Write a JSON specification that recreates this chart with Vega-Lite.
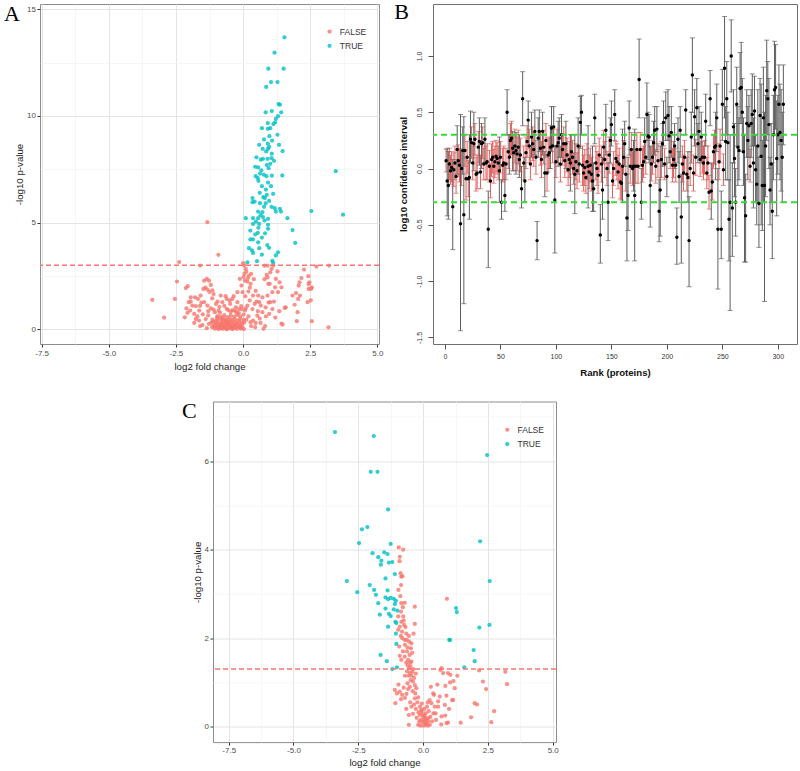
{
"$schema": "https://vega.github.io/schema/vega-lite/v6.json",
"autosize": {"type": "pad"},
"padding": {"left": 3, "top": 0, "right": 0, "bottom": 0},
"background": "white",
"config": {
  "view": {"stroke": null},
  "font": "Liberation Sans",
  "axis": {"labelFont": "Liberation Sans", "titleFont": "Liberation Sans"},
  "legend": {"labelFont": "Liberation Sans"}
},
"datasets": {
"a": [
{"x":1.54,"y":13.69,"s":"TRUE"},{"x":1.17,"y":12.97,"s":"TRUE"},{"x":0.94,"y":12.22,"s":"TRUE"},{"x":1.51,"y":12.22,"s":"TRUE"},{"x":1.04,"y":11.59,"s":"TRUE"},{"x":1.28,"y":11.59,"s":"TRUE"},{"x":0.86,"y":11.36,"s":"TRUE"},{"x":1.32,"y":10.56,"s":"TRUE"},{"x":1.37,"y":10.53,"s":"TRUE"},{"x":0.84,"y":10.17,"s":"TRUE"},{"x":1.07,"y":10.23,"s":"TRUE"},{"x":1.42,"y":10.17,"s":"TRUE"},{"x":1.30,"y":9.99,"s":"TRUE"},{"x":1.22,"y":9.87,"s":"TRUE"},{"x":0.92,"y":9.67,"s":"TRUE"},{"x":1.13,"y":9.62,"s":"TRUE"},{"x":0.70,"y":9.43,"s":"TRUE"},{"x":0.92,"y":9.40,"s":"TRUE"},{"x":1.01,"y":9.43,"s":"TRUE"},{"x":1.19,"y":9.70,"s":"TRUE"},{"x":1.28,"y":9.12,"s":"TRUE"},{"x":0.60,"y":8.65,"s":"TRUE"},{"x":0.92,"y":8.70,"s":"TRUE"},{"x":1.34,"y":8.65,"s":"TRUE"},{"x":0.73,"y":8.46,"s":"TRUE"},{"x":0.93,"y":8.46,"s":"TRUE"},{"x":0.97,"y":8.55,"s":"TRUE"},{"x":0.50,"y":8.06,"s":"TRUE"},{"x":0.86,"y":8.34,"s":"TRUE"},{"x":1.07,"y":8.23,"s":"TRUE"},{"x":1.47,"y":8.35,"s":"TRUE"},{"x":0.74,"y":7.99,"s":"TRUE"},{"x":0.91,"y":7.99,"s":"TRUE"},{"x":1.06,"y":8.02,"s":"TRUE"},{"x":0.66,"y":7.95,"s":"TRUE"},{"x":0.45,"y":7.62,"s":"TRUE"},{"x":0.56,"y":7.59,"s":"TRUE"},{"x":1.01,"y":7.76,"s":"TRUE"},{"x":0.95,"y":7.55,"s":"TRUE"},{"x":0.88,"y":7.70,"s":"TRUE"},{"x":0.68,"y":7.45,"s":"TRUE"},{"x":0.47,"y":7.18,"s":"TRUE"},{"x":0.87,"y":7.18,"s":"TRUE"},{"x":1.07,"y":7.20,"s":"TRUE"},{"x":1.46,"y":7.21,"s":"TRUE"},{"x":0.55,"y":7.09,"s":"TRUE"},{"x":0.57,"y":6.96,"s":"TRUE"},{"x":0.63,"y":7.30,"s":"TRUE"},{"x":0.70,"y":6.71,"s":"TRUE"},{"x":1.04,"y":6.71,"s":"TRUE"},{"x":0.93,"y":6.88,"s":"TRUE"},{"x":0.35,"y":6.15,"s":"TRUE"},{"x":0.81,"y":6.15,"s":"TRUE"},{"x":0.35,"y":5.96,"s":"TRUE"},{"x":0.43,"y":5.99,"s":"TRUE"},{"x":0.63,"y":5.91,"s":"TRUE"},{"x":0.84,"y":5.90,"s":"TRUE"},{"x":0.97,"y":6.02,"s":"TRUE"},{"x":0.88,"y":6.30,"s":"TRUE"},{"x":0.75,"y":6.20,"s":"TRUE"},{"x":0.78,"y":5.74,"s":"TRUE"},{"x":1.06,"y":5.74,"s":"TRUE"},{"x":1.18,"y":5.68,"s":"TRUE"},{"x":1.37,"y":5.65,"s":"TRUE"},{"x":1.22,"y":5.52,"s":"TRUE"},{"x":1.41,"y":5.52,"s":"TRUE"},{"x":0.56,"y":5.52,"s":"TRUE"},{"x":0.72,"y":5.49,"s":"TRUE"},{"x":0.10,"y":5.21,"s":"TRUE"},{"x":0.37,"y":5.21,"s":"TRUE"},{"x":0.56,"y":5.21,"s":"TRUE"},{"x":0.74,"y":5.26,"s":"TRUE"},{"x":0.93,"y":5.18,"s":"TRUE"},{"x":1.65,"y":5.21,"s":"TRUE"},{"x":2.54,"y":5.54,"s":"TRUE"},{"x":3.72,"y":5.37,"s":"TRUE"},{"x":3.45,"y":7.41,"s":"TRUE"},{"x":0.37,"y":4.94,"s":"TRUE"},{"x":0.60,"y":4.94,"s":"TRUE"},{"x":0.93,"y":4.90,"s":"TRUE"},{"x":0.57,"y":4.76,"s":"TRUE"},{"x":0.93,"y":4.71,"s":"TRUE"},{"x":1.84,"y":4.65,"s":"TRUE"},{"x":0.27,"y":4.63,"s":"TRUE"},{"x":0.55,"y":4.52,"s":"TRUE"},{"x":0.27,"y":4.21,"s":"TRUE"},{"x":0.37,"y":4.21,"s":"TRUE"},{"x":0.56,"y":4.08,"s":"TRUE"},{"x":0.22,"y":3.80,"s":"TRUE"},{"x":0.97,"y":3.82,"s":"TRUE"},{"x":1.94,"y":4.05,"s":"TRUE"},{"x":0.60,"y":3.80,"s":"TRUE"},{"x":0.37,"y":3.58,"s":"TRUE"},{"x":1.30,"y":3.61,"s":"TRUE"},{"x":1.22,"y":3.46,"s":"TRUE"},{"x":0.16,"y":3.14,"s":"TRUE"},{"x":0.52,"y":3.19,"s":"TRUE"},{"x":1.09,"y":3.21,"s":"TRUE"},{"x":1.12,"y":3.11,"s":"TRUE"},{"x":0.80,"y":5.10,"s":"TRUE"},{"x":0.65,"y":5.35,"s":"TRUE"},{"x":0.48,"y":5.05,"s":"TRUE"},{"x":0.82,"y":4.50,"s":"TRUE"},{"x":0.70,"y":4.30,"s":"TRUE"},{"x":0.45,"y":4.45,"s":"TRUE"},{"x":0.85,"y":6.55,"s":"TRUE"},{"x":0.62,"y":6.40,"s":"TRUE"},{"x":1.12,"y":6.35,"s":"TRUE"},{"x":0.77,"y":7.25,"s":"TRUE"},{"x":1.15,"y":7.90,"s":"TRUE"},{"x":0.78,"y":8.90,"s":"TRUE"},{"x":0.98,"y":9.05,"s":"TRUE"},{"x":1.08,"y":8.85,"s":"TRUE"},{"x":0.90,"y":3.95,"s":"TRUE"},{"x":0.70,"y":3.50,"s":"TRUE"},{"x":0.33,"y":3.70,"s":"TRUE"},
{"x":-1.33,"y":5.02,"s":"FALSE"},{"x":-0.92,"y":3.49,"s":"FALSE"},{"x":-2.38,"y":3.15,"s":"FALSE"},{"x":-1.60,"y":2.99,"s":"FALSE"},{"x":0.00,"y":3.10,"s":"FALSE"},{"x":0.04,"y":2.99,"s":"FALSE"},{"x":0.80,"y":2.98,"s":"FALSE"},{"x":2.73,"y":2.94,"s":"FALSE"},{"x":3.20,"y":2.99,"s":"FALSE"},{"x":2.27,"y":2.80,"s":"FALSE"},{"x":-2.46,"y":2.24,"s":"FALSE"},{"x":-2.13,"y":1.93,"s":"FALSE"},{"x":-2.06,"y":2.02,"s":"FALSE"},{"x":-3.38,"y":1.38,"s":"FALSE"},{"x":-2.54,"y":1.42,"s":"FALSE"},{"x":-2.94,"y":0.55,"s":"FALSE"},{"x":0.76,"y":0.02,"s":"FALSE"},{"x":3.18,"y":0.09,"s":"FALSE"},{"x":2.56,"y":0.38,"s":"FALSE"},{"x":2.00,"y":0.38,"s":"FALSE"},{"x":1.47,"y":0.22,"s":"FALSE"},{"x":2.03,"y":0.80,"s":"FALSE"},{"x":1.55,"y":1.00,"s":"FALSE"},{"x":1.92,"y":1.15,"s":"FALSE"},{"x":2.05,"y":1.42,"s":"FALSE"},{"x":1.84,"y":1.58,"s":"FALSE"},{"x":2.10,"y":2.20,"s":"FALSE"},{"x":2.07,"y":2.05,"s":"FALSE"},{"x":2.44,"y":2.12,"s":"FALSE"},{"x":2.44,"y":1.89,"s":"FALSE"},{"x":2.53,"y":1.89,"s":"FALSE"},{"x":1.36,"y":2.20,"s":"FALSE"},{"x":1.43,"y":1.97,"s":"FALSE"},{"x":1.30,"y":1.74,"s":"FALSE"},{"x":2.52,"y":1.35,"s":"FALSE"},{"x":2.17,"y":2.40,"s":"FALSE"},{"x":1.97,"y":1.70,"s":"FALSE"},{"x":2.12,"y":1.58,"s":"FALSE"},{"x":2.40,"y":1.27,"s":"FALSE"},{"x":2.56,"y":1.97,"s":"FALSE"},{"x":2.47,"y":2.20,"s":"FALSE"},{"x":2.43,"y":2.49,"s":"FALSE"},{"x":1.59,"y":1.03,"s":"FALSE"},{"x":1.43,"y":0.27,"s":"FALSE"},
{"x":0.10,"y":2.83,"s":"FALSE"},{"x":0.05,"y":2.60,"s":"FALSE"},{"x":0.22,"y":2.52,"s":"FALSE"},{"x":0.07,"y":2.28,"s":"FALSE"},{"x":-0.12,"y":2.36,"s":"FALSE"},{"x":-0.06,"y":2.05,"s":"FALSE"},{"x":0.16,"y":2.24,"s":"FALSE"},{"x":0.28,"y":2.13,"s":"FALSE"},{"x":-0.21,"y":1.74,"s":"FALSE"},{"x":-0.02,"y":1.74,"s":"FALSE"},{"x":0.20,"y":1.77,"s":"FALSE"},{"x":0.47,"y":1.80,"s":"FALSE"},{"x":0.37,"y":1.58,"s":"FALSE"},{"x":0.56,"y":1.58,"s":"FALSE"},{"x":0.72,"y":1.50,"s":"FALSE"},{"x":0.91,"y":1.58,"s":"FALSE"},{"x":0.94,"y":2.13,"s":"FALSE"},{"x":0.99,"y":2.13,"s":"FALSE"},{"x":0.91,"y":2.43,"s":"FALSE"},{"x":1.01,"y":2.67,"s":"FALSE"},{"x":0.91,"y":2.99,"s":"FALSE"},{"x":1.06,"y":2.83,"s":"FALSE"},{"x":1.12,"y":2.99,"s":"FALSE"},{"x":1.22,"y":2.36,"s":"FALSE"},{"x":1.28,"y":2.71,"s":"FALSE"},{"x":1.19,"y":1.97,"s":"FALSE"},{"x":1.09,"y":1.74,"s":"FALSE"},{"x":1.01,"y":1.27,"s":"FALSE"},{"x":0.84,"y":1.03,"s":"FALSE"},{"x":0.97,"y":0.72,"s":"FALSE"},{"x":1.09,"y":0.95,"s":"FALSE"},{"x":0.72,"y":0.80,"s":"FALSE"},{"x":0.53,"y":0.64,"s":"FALSE"},{"x":0.37,"y":0.41,"s":"FALSE"},{"x":0.28,"y":0.33,"s":"FALSE"},{"x":0.47,"y":0.30,"s":"FALSE"},{"x":0.60,"y":1.27,"s":"FALSE"},{"x":0.66,"y":1.11,"s":"FALSE"},{"x":0.43,"y":1.19,"s":"FALSE"},{"x":0.25,"y":1.35,"s":"FALSE"},{"x":0.16,"y":1.11,"s":"FALSE"},{"x":0.07,"y":0.88,"s":"FALSE"},{"x":-0.07,"y":1.08,"s":"FALSE"},{"x":-0.21,"y":1.27,"s":"FALSE"},{"x":-0.27,"y":1.03,"s":"FALSE"},{"x":-0.40,"y":1.42,"s":"FALSE"},{"x":-0.48,"y":1.19,"s":"FALSE"},{"x":-0.61,"y":1.42,"s":"FALSE"},{"x":-0.77,"y":1.27,"s":"FALSE"},{"x":-0.83,"y":1.58,"s":"FALSE"},{"x":0.12,"y":2.70,"s":"FALSE"},{"x":0.18,"y":2.40,"s":"FALSE"},{"x":0.02,"y":2.45,"s":"FALSE"},{"x":0.30,"y":2.60,"s":"FALSE"},{"x":0.25,"y":1.95,"s":"FALSE"},{"x":0.08,"y":1.55,"s":"FALSE"},{"x":0.35,"y":0.95,"s":"FALSE"},{"x":0.55,"y":0.85,"s":"FALSE"},{"x":0.20,"y":0.60,"s":"FALSE"},{"x":0.12,"y":0.45,"s":"FALSE"},{"x":0.62,"y":0.50,"s":"FALSE"},{"x":0.85,"y":0.60,"s":"FALSE"},{"x":0.95,"y":1.25,"s":"FALSE"},{"x":1.15,"y":1.30,"s":"FALSE"},{"x":0.80,"y":2.35,"s":"FALSE"},{"x":0.88,"y":2.55,"s":"FALSE"},{"x":0.40,"y":2.35,"s":"FALSE"},{"x":0.50,"y":1.30,"s":"FALSE"},{"x":0.65,"y":0.30,"s":"FALSE"},{"x":0.82,"y":0.15,"s":"FALSE"},{"x":1.20,"y":0.55,"s":"FALSE"},{"x":1.35,"y":0.85,"s":"FALSE"},{"x":0.45,"y":0.10,"s":"FALSE"},{"x":0.30,"y":0.15,"s":"FALSE"},
{"x":-1.45,"y":2.28,"s":"FALSE"},{"x":-1.35,"y":2.36,"s":"FALSE"},{"x":-1.27,"y":2.28,"s":"FALSE"},{"x":-1.20,"y":2.08,"s":"FALSE"},{"x":-1.48,"y":1.89,"s":"FALSE"},{"x":-1.33,"y":1.86,"s":"FALSE"},{"x":-1.14,"y":1.82,"s":"FALSE"},{"x":-1.79,"y":1.50,"s":"FALSE"},{"x":-1.68,"y":1.42,"s":"FALSE"},{"x":-1.58,"y":1.58,"s":"FALSE"},{"x":-1.95,"y":1.50,"s":"FALSE"},{"x":-2.02,"y":1.27,"s":"FALSE"},{"x":-1.89,"y":1.11,"s":"FALSE"},{"x":-1.76,"y":1.08,"s":"FALSE"},{"x":-2.11,"y":0.98,"s":"FALSE"},{"x":-1.97,"y":0.88,"s":"FALSE"},{"x":-1.82,"y":0.72,"s":"FALSE"},{"x":-1.63,"y":0.88,"s":"FALSE"},{"x":-1.45,"y":1.27,"s":"FALSE"},{"x":-1.33,"y":1.11,"s":"FALSE"},{"x":-1.20,"y":0.98,"s":"FALSE"},{"x":-1.01,"y":1.19,"s":"FALSE"},{"x":-0.91,"y":0.88,"s":"FALSE"},{"x":-0.97,"y":0.56,"s":"FALSE"},{"x":-1.39,"y":0.48,"s":"FALSE"},{"x":-1.64,"y":0.41,"s":"FALSE"},{"x":-1.82,"y":0.30,"s":"FALSE"},{"x":-1.51,"y":0.20,"s":"FALSE"},{"x":-1.27,"y":0.25,"s":"FALSE"},{"x":-1.12,"y":0.36,"s":"FALSE"},{"x":-1.76,"y":0.48,"s":"FALSE"},{"x":-2.07,"y":0.77,"s":"FALSE"},{"x":-2.17,"y":0.56,"s":"FALSE"},{"x":-1.40,"y":1.95,"s":"FALSE"},{"x":-1.25,"y":1.75,"s":"FALSE"},{"x":-1.55,"y":1.25,"s":"FALSE"},{"x":-1.15,"y":1.45,"s":"FALSE"},{"x":-0.95,"y":1.30,"s":"FALSE"},{"x":-0.70,"y":1.10,"s":"FALSE"},{"x":-0.55,"y":0.90,"s":"FALSE"},{"x":-1.05,"y":0.80,"s":"FALSE"},{"x":-1.30,"y":0.65,"s":"FALSE"},{"x":-1.50,"y":0.70,"s":"FALSE"},{"x":-1.60,"y":1.10,"s":"FALSE"},{"x":-0.65,"y":1.55,"s":"FALSE"},{"x":-0.50,"y":1.35,"s":"FALSE"},{"x":-0.35,"y":1.55,"s":"FALSE"},{"x":-0.88,"y":1.05,"s":"FALSE"},{"x":-1.70,"y":0.60,"s":"FALSE"},{"x":-1.95,"y":1.30,"s":"FALSE"},{"x":-1.10,"y":1.65,"s":"FALSE"},{"x":-0.40,"y":0.90,"s":"FALSE"},{"x":-0.25,"y":0.80,"s":"FALSE"},{"x":-0.15,"y":0.95,"s":"FALSE"},{"x":-1.15,"y":0.10,"s":"FALSE"},{"x":-1.35,"y":0.05,"s":"FALSE"},{"x":-1.60,"y":0.15,"s":"FALSE"},
{"x":-1.05,"y":0.03,"s":"FALSE"},{"x":-0.98,"y":0.07,"s":"FALSE"},{"x":-0.91,"y":0.01,"s":"FALSE"},{"x":-0.83,"y":0.05,"s":"FALSE"},{"x":-0.76,"y":0.02,"s":"FALSE"},{"x":-0.69,"y":0.08,"s":"FALSE"},{"x":-0.61,"y":0.00,"s":"FALSE"},{"x":-0.53,"y":0.04,"s":"FALSE"},{"x":-0.46,"y":0.09,"s":"FALSE"},{"x":-0.39,"y":0.01,"s":"FALSE"},{"x":-0.31,"y":0.06,"s":"FALSE"},{"x":-0.23,"y":0.02,"s":"FALSE"},{"x":-0.16,"y":0.08,"s":"FALSE"},{"x":-0.09,"y":0.03,"s":"FALSE"},{"x":-0.02,"y":0.06,"s":"FALSE"},{"x":0.03,"y":0.01,"s":"FALSE"},{"x":-0.65,"y":0.05,"s":"FALSE"},{"x":-0.57,"y":0.10,"s":"FALSE"},{"x":-0.42,"y":0.04,"s":"FALSE"},{"x":-0.87,"y":0.09,"s":"FALSE"},{"x":-0.72,"y":0.11,"s":"FALSE"},{"x":-0.35,"y":0.10,"s":"FALSE"},
{"x":-1.10,"y":0.15,"s":"FALSE"},{"x":-1.01,"y":0.19,"s":"FALSE"},{"x":-0.94,"y":0.13,"s":"FALSE"},{"x":-0.86,"y":0.21,"s":"FALSE"},{"x":-0.78,"y":0.16,"s":"FALSE"},{"x":-0.71,"y":0.20,"s":"FALSE"},{"x":-0.63,"y":0.14,"s":"FALSE"},{"x":-0.55,"y":0.22,"s":"FALSE"},{"x":-0.48,"y":0.17,"s":"FALSE"},{"x":-0.41,"y":0.13,"s":"FALSE"},{"x":-0.33,"y":0.19,"s":"FALSE"},{"x":-0.26,"y":0.15,"s":"FALSE"},{"x":-0.18,"y":0.21,"s":"FALSE"},{"x":-0.11,"y":0.14,"s":"FALSE"},{"x":-0.05,"y":0.18,"s":"FALSE"},{"x":-0.60,"y":0.17,"s":"FALSE"},{"x":-0.45,"y":0.12,"s":"FALSE"},{"x":-0.81,"y":0.12,"s":"FALSE"},
{"x":-1.18,"y":0.30,"s":"FALSE"},{"x":-1.04,"y":0.27,"s":"FALSE"},{"x":-0.96,"y":0.33,"s":"FALSE"},{"x":-0.88,"y":0.26,"s":"FALSE"},{"x":-0.80,"y":0.31,"s":"FALSE"},{"x":-0.73,"y":0.35,"s":"FALSE"},{"x":-0.66,"y":0.27,"s":"FALSE"},{"x":-0.58,"y":0.32,"s":"FALSE"},{"x":-0.50,"y":0.26,"s":"FALSE"},{"x":-0.43,"y":0.34,"s":"FALSE"},{"x":-0.36,"y":0.28,"s":"FALSE"},{"x":-0.28,"y":0.32,"s":"FALSE"},{"x":-0.21,"y":0.26,"s":"FALSE"},{"x":-0.13,"y":0.34,"s":"FALSE"},{"x":-0.05,"y":0.29,"s":"FALSE"},{"x":0.04,"y":0.31,"s":"FALSE"},{"x":-0.62,"y":0.38,"s":"FALSE"},{"x":-0.52,"y":0.36,"s":"FALSE"},
{"x":-1.14,"y":0.45,"s":"FALSE"},{"x":-1.01,"y":0.41,"s":"FALSE"},{"x":-0.91,"y":0.48,"s":"FALSE"},{"x":-0.81,"y":0.43,"s":"FALSE"},{"x":-0.70,"y":0.46,"s":"FALSE"},{"x":-0.61,"y":0.41,"s":"FALSE"},{"x":-0.51,"y":0.49,"s":"FALSE"},{"x":-0.41,"y":0.44,"s":"FALSE"},{"x":-0.31,"y":0.47,"s":"FALSE"},{"x":-0.20,"y":0.42,"s":"FALSE"},{"x":-0.11,"y":0.49,"s":"FALSE"},{"x":0.01,"y":0.44,"s":"FALSE"},{"x":-0.75,"y":0.52,"s":"FALSE"},
{"x":-0.95,"y":0.62,"s":"FALSE"},{"x":-0.83,"y":0.58,"s":"FALSE"},{"x":-0.70,"y":0.66,"s":"FALSE"},{"x":-0.59,"y":0.57,"s":"FALSE"},{"x":-0.46,"y":0.64,"s":"FALSE"},{"x":-0.33,"y":0.59,"s":"FALSE"},{"x":-0.22,"y":0.67,"s":"FALSE"},{"x":-0.10,"y":0.61,"s":"FALSE"},{"x":0.02,"y":0.69,"s":"FALSE"},
{"x":-1.30,"y":0.85,"s":"FALSE"},{"x":-1.10,"y":0.92,"s":"FALSE"},{"x":-0.86,"y":0.78,"s":"FALSE"},{"x":-0.61,"y":0.96,"s":"FALSE"},{"x":-0.46,"y":0.81,"s":"FALSE"},{"x":-0.31,"y":0.88,"s":"FALSE"},{"x":-0.16,"y":0.76,"s":"FALSE"},{"x":-0.05,"y":0.95,"s":"FALSE"},{"x":0.10,"y":0.98,"s":"FALSE"}
],
"b": [
{"r":1,"v":0.07,"l":-0.03,"h":0.17,"c":"r"},{"r":2,"v":-0.11,"l":-0.42,"h":0.18,"c":"g"},{"r":3,"v":-0.15,"l":-0.45,"h":0.15,"c":"g"},{"r":4,"v":0.04,"l":-0.10,"h":0.18,"c":"r"},{"r":5,"v":-0.02,"l":-0.14,"h":0.12,"c":"r"},{"r":6,"v":0.01,"l":-0.12,"h":0.15,"c":"r"},{"r":7,"v":-0.34,"l":-0.72,"h":0.08,"c":"g"},{"r":8,"v":-0.01,"l":-0.16,"h":0.14,"c":"r"},{"r":9,"v":0.05,"l":-0.10,"h":0.20,"c":"r"},{"r":10,"v":-0.07,"l":-0.22,"h":0.08,"c":"r"},
{"r":11,"v":0.17,"l":-0.05,"h":0.38,"c":"g"},{"r":12,"v":0.07,"l":-0.07,"h":0.21,"c":"r"},{"r":13,"v":0.03,"l":-0.12,"h":0.18,"c":"r"},{"r":14,"v":-0.49,"l":-1.44,"h":0.48,"c":"g"},{"r":15,"v":0.00,"l":-0.15,"h":0.15,"c":"r"},{"r":16,"v":0.16,"l":-0.05,"h":0.37,"c":"g"},{"r":17,"v":-0.41,"l":-1.20,"h":0.46,"c":"g"},{"r":18,"v":0.16,"l":0.02,"h":0.30,"c":"r"},{"r":19,"v":-0.09,"l":-0.28,"h":0.10,"c":"r"},{"r":20,"v":0.10,"l":-0.04,"h":0.24,"c":"r"},
{"r":21,"v":-0.09,"l":-0.25,"h":0.07,"c":"r"},{"r":22,"v":-0.08,"l":-0.45,"h":0.30,"c":"g"},{"r":23,"v":0.26,"l":0.05,"h":0.51,"c":"g"},{"r":24,"v":0.23,"l":0.09,"h":0.37,"c":"r"},{"r":25,"v":0.05,"l":-0.10,"h":0.20,"c":"r"},{"r":26,"v":0.22,"l":-0.02,"h":0.50,"c":"g"},{"r":27,"v":0.26,"l":0.12,"h":0.40,"c":"r"},{"r":28,"v":-0.05,"l":-0.20,"h":0.10,"c":"r"},{"r":29,"v":-0.04,"l":-0.18,"h":0.12,"c":"r"},{"r":30,"v":0.19,"l":0.05,"h":0.33,"c":"r"},
{"r":31,"v":0.24,"l":0.03,"h":0.45,"c":"g"},{"r":32,"v":-0.03,"l":-0.18,"h":0.12,"c":"r"},{"r":33,"v":0.22,"l":0.00,"h":0.40,"c":"g"},{"r":34,"v":0.23,"l":0.09,"h":0.37,"c":"r"},{"r":35,"v":0.04,"l":-0.10,"h":0.18,"c":"r"},{"r":36,"v":0.26,"l":0.05,"h":0.45,"c":"g"},{"r":37,"v":0.05,"l":-0.10,"h":0.20,"c":"r"},{"r":38,"v":0.06,"l":-0.10,"h":0.22,"c":"r"},{"r":39,"v":-0.54,"l":-0.88,"h":-0.20,"c":"g"},{"r":40,"v":0.02,"l":-0.12,"h":0.16,"c":"r"},
{"r":41,"v":-0.11,"l":-0.26,"h":0.04,"c":"r"},{"r":42,"v":0.08,"l":-0.07,"h":0.22,"c":"r"},{"r":43,"v":0.10,"l":-0.04,"h":0.24,"c":"r"},{"r":44,"v":0.02,"l":-0.13,"h":0.17,"c":"r"},{"r":45,"v":0.06,"l":-0.08,"h":0.20,"c":"r"},{"r":46,"v":0.11,"l":-0.03,"h":0.25,"c":"r"},{"r":47,"v":0.09,"l":-0.05,"h":0.23,"c":"r"},{"r":48,"v":0.05,"l":-0.10,"h":0.20,"c":"r"},{"r":49,"v":-0.02,"l":-0.30,"h":0.28,"c":"g"},{"r":50,"v":0.10,"l":-0.04,"h":0.24,"c":"r"},
{"r":51,"v":-0.30,"l":-0.45,"h":-0.10,"c":"g"},{"r":52,"v":0.03,"l":-0.12,"h":0.18,"c":"r"},{"r":53,"v":0.05,"l":-0.10,"h":0.20,"c":"r"},{"r":54,"v":-0.24,"l":-0.38,"h":0.05,"c":"g"},{"r":55,"v":0.04,"l":-0.10,"h":0.18,"c":"r"},{"r":56,"v":0.50,"l":0.30,"h":0.70,"c":"g"},{"r":57,"v":0.15,"l":0.00,"h":0.30,"c":"r"},{"r":58,"v":0.10,"l":-0.05,"h":0.30,"c":"g"},{"r":59,"v":0.25,"l":0.10,"h":0.40,"c":"r"},{"r":60,"v":0.27,"l":0.12,"h":0.42,"c":"r"},
{"r":61,"v":0.18,"l":-0.02,"h":0.33,"c":"g"},{"r":62,"v":0.14,"l":-0.02,"h":0.30,"c":"r"},{"r":63,"v":0.20,"l":0.05,"h":0.35,"c":"r"},{"r":64,"v":0.16,"l":-0.05,"h":0.32,"c":"g"},{"r":65,"v":0.13,"l":-0.02,"h":0.28,"c":"r"},{"r":66,"v":0.19,"l":0.04,"h":0.34,"c":"r"},{"r":67,"v":0.08,"l":-0.08,"h":0.30,"c":"g"},{"r":68,"v":0.12,"l":-0.03,"h":0.27,"c":"r"},{"r":69,"v":-0.18,"l":-0.35,"h":0.02,"c":"g"},{"r":70,"v":0.62,"l":0.38,"h":0.86,"c":"g"},
{"r":71,"v":0.05,"l":-0.10,"h":0.20,"c":"r"},{"r":72,"v":-0.11,"l":-0.30,"h":0.10,"c":"g"},{"r":73,"v":0.14,"l":0.00,"h":0.28,"c":"r"},{"r":74,"v":0.24,"l":0.10,"h":0.38,"c":"r"},{"r":75,"v":0.43,"l":0.20,"h":0.60,"c":"g"},{"r":76,"v":0.20,"l":0.05,"h":0.35,"c":"r"},{"r":77,"v":0.04,"l":-0.10,"h":0.18,"c":"r"},{"r":78,"v":0.28,"l":0.10,"h":0.50,"c":"g"},{"r":79,"v":0.22,"l":0.07,"h":0.37,"c":"r"},{"r":80,"v":0.17,"l":0.02,"h":0.32,"c":"r"},
{"r":81,"v":0.33,"l":0.12,"h":0.52,"c":"g"},{"r":82,"v":0.10,"l":-0.05,"h":0.25,"c":"r"},{"r":83,"v":-0.64,"l":-0.81,"h":-0.47,"c":"g"},{"r":84,"v":0.27,"l":0.10,"h":0.45,"c":"g"},{"r":85,"v":0.33,"l":0.15,"h":0.52,"c":"g"},{"r":86,"v":0.18,"l":0.03,"h":0.33,"c":"r"},{"r":87,"v":0.08,"l":-0.08,"h":0.24,"c":"r"},{"r":88,"v":0.33,"l":0.12,"h":0.50,"c":"g"},{"r":89,"v":0.19,"l":0.04,"h":0.34,"c":"r"},{"r":90,"v":-0.04,"l":-0.25,"h":0.15,"c":"g"},
{"r":91,"v":0.25,"l":0.10,"h":0.40,"c":"r"},{"r":92,"v":-0.04,"l":-0.20,"h":0.12,"c":"r"},{"r":93,"v":0.12,"l":-0.03,"h":0.27,"c":"r"},{"r":94,"v":0.14,"l":0.00,"h":0.28,"c":"r"},{"r":95,"v":0.19,"l":0.00,"h":0.38,"c":"g"},{"r":96,"v":0.36,"l":0.15,"h":0.55,"c":"g"},{"r":97,"v":0.20,"l":0.05,"h":0.35,"c":"r"},{"r":98,"v":0.37,"l":0.20,"h":0.55,"c":"g"},{"r":99,"v":-0.28,"l":-0.75,"h":0.20,"c":"g"},{"r":100,"v":0.06,"l":-0.08,"h":0.20,"c":"r"},
{"r":101,"v":0.20,"l":0.05,"h":0.35,"c":"r"},{"r":102,"v":0.23,"l":0.02,"h":0.42,"c":"g"},{"r":103,"v":0.27,"l":0.10,"h":0.45,"c":"g"},{"r":104,"v":0.04,"l":-0.12,"h":0.20,"c":"r"},{"r":105,"v":0.30,"l":0.10,"h":0.48,"c":"g"},{"r":106,"v":0.17,"l":0.03,"h":0.31,"c":"r"},{"r":107,"v":0.22,"l":0.07,"h":0.37,"c":"r"},{"r":108,"v":0.07,"l":-0.08,"h":0.22,"c":"r"},{"r":109,"v":0.22,"l":0.00,"h":0.42,"c":"g"},{"r":110,"v":0.12,"l":-0.03,"h":0.27,"c":"r"},
{"r":111,"v":-0.01,"l":-0.15,"h":0.13,"c":"r"},{"r":112,"v":0.08,"l":-0.08,"h":0.24,"c":"r"},{"r":113,"v":0.05,"l":-0.20,"h":0.30,"c":"g"},{"r":114,"v":0.15,"l":0.00,"h":0.30,"c":"r"},{"r":115,"v":0.10,"l":-0.05,"h":0.25,"c":"r"},{"r":116,"v":0.00,"l":-0.14,"h":0.14,"c":"r"},{"r":117,"v":-0.05,"l":-0.40,"h":0.30,"c":"g"},{"r":118,"v":0.06,"l":-0.10,"h":0.22,"c":"r"},{"r":119,"v":-0.02,"l":-0.18,"h":0.14,"c":"r"},{"r":120,"v":0.20,"l":-0.05,"h":0.45,"c":"g"},
{"r":121,"v":0.04,"l":-0.12,"h":0.20,"c":"r"},{"r":122,"v":0.41,"l":0.18,"h":0.64,"c":"g"},{"r":123,"v":0.50,"l":0.30,"h":0.65,"c":"g"},{"r":124,"v":0.03,"l":-0.15,"h":0.20,"c":"r"},{"r":125,"v":-0.04,"l":-0.20,"h":0.12,"c":"r"},{"r":126,"v":0.01,"l":-0.15,"h":0.17,"c":"r"},{"r":127,"v":-0.08,"l":-0.22,"h":0.06,"c":"r"},{"r":128,"v":0.06,"l":-0.10,"h":0.22,"c":"r"},{"r":129,"v":0.02,"l":-0.35,"h":0.38,"c":"g"},{"r":130,"v":-0.03,"l":-0.18,"h":0.12,"c":"r"},
{"r":131,"v":0.03,"l":-0.12,"h":0.18,"c":"r"},{"r":132,"v":-0.05,"l":-0.20,"h":0.10,"c":"r"},{"r":133,"v":-0.11,"l":-0.38,"h":0.20,"c":"g"},{"r":134,"v":-0.18,"l":-0.38,"h":0.05,"c":"g"},{"r":135,"v":0.45,"l":0.22,"h":0.66,"c":"g"},{"r":136,"v":0.05,"l":-0.10,"h":0.20,"c":"r"},{"r":137,"v":0.00,"l":-0.15,"h":0.15,"c":"r"},{"r":138,"v":-0.06,"l":-0.22,"h":0.10,"c":"r"},{"r":139,"v":0.12,"l":-0.03,"h":0.27,"c":"r"},{"r":140,"v":-0.59,"l":-0.84,"h":-0.32,"c":"g"},
{"r":141,"v":0.04,"l":-0.12,"h":0.20,"c":"r"},{"r":142,"v":-0.19,"l":-0.45,"h":0.10,"c":"g"},{"r":143,"v":0.19,"l":0.04,"h":0.34,"c":"r"},{"r":144,"v":0.08,"l":-0.08,"h":0.24,"c":"r"},{"r":145,"v":0.34,"l":0.12,"h":0.57,"c":"g"},{"r":146,"v":0.00,"l":-0.15,"h":0.15,"c":"r"},{"r":147,"v":-0.30,"l":-0.64,"h":0.05,"c":"g"},{"r":148,"v":0.12,"l":-0.04,"h":0.28,"c":"r"},{"r":149,"v":0.25,"l":0.05,"h":0.45,"c":"g"},{"r":150,"v":0.39,"l":0.20,"h":0.60,"c":"g"},
{"r":151,"v":-0.11,"l":-0.26,"h":0.04,"c":"r"},{"r":152,"v":0.00,"l":-0.15,"h":0.15,"c":"r"},{"r":153,"v":0.48,"l":0.25,"h":0.70,"c":"g"},{"r":154,"v":0.09,"l":-0.06,"h":0.24,"c":"r"},{"r":155,"v":0.06,"l":-0.10,"h":0.22,"c":"r"},{"r":156,"v":-0.03,"l":-0.18,"h":0.12,"c":"r"},{"r":157,"v":0.04,"l":-0.10,"h":0.18,"c":"r"},{"r":158,"v":-0.12,"l":-0.27,"h":0.03,"c":"r"},{"r":159,"v":-0.13,"l":-0.28,"h":0.02,"c":"r"},{"r":160,"v":0.02,"l":-0.30,"h":0.35,"c":"g"},
{"r":161,"v":0.10,"l":-0.05,"h":0.25,"c":"r"},{"r":162,"v":0.22,"l":0.02,"h":0.42,"c":"g"},{"r":163,"v":-0.05,"l":-0.20,"h":0.10,"c":"r"},{"r":164,"v":-0.44,"l":-0.82,"h":-0.05,"c":"g"},{"r":165,"v":-0.24,"l":-0.55,"h":0.10,"c":"g"},{"r":166,"v":0.36,"l":0.12,"h":0.60,"c":"g"},{"r":167,"v":0.02,"l":-0.13,"h":0.17,"c":"r"},{"r":168,"v":0.17,"l":0.02,"h":0.32,"c":"r"},{"r":169,"v":0.00,"l":-0.15,"h":0.15,"c":"r"},{"r":170,"v":0.02,"l":-0.20,"h":0.25,"c":"g"},
{"r":171,"v":-0.24,"l":-0.82,"h":0.35,"c":"g"},{"r":172,"v":0.02,"l":-0.13,"h":0.17,"c":"r"},{"r":173,"v":0.17,"l":0.02,"h":0.32,"c":"r"},{"r":174,"v":0.02,"l":-0.13,"h":0.17,"c":"r"},{"r":175,"v":0.79,"l":0.45,"h":1.15,"c":"g"},{"r":176,"v":0.17,"l":0.02,"h":0.32,"c":"r"},{"r":177,"v":-0.30,"l":-0.45,"h":0.00,"c":"g"},{"r":178,"v":0.03,"l":-0.12,"h":0.18,"c":"r"},{"r":179,"v":0.06,"l":-0.08,"h":0.20,"c":"r"},{"r":180,"v":0.24,"l":0.05,"h":0.45,"c":"g"},
{"r":181,"v":0.10,"l":-0.05,"h":0.25,"c":"r"},{"r":182,"v":0.48,"l":0.25,"h":0.76,"c":"g"},{"r":183,"v":0.29,"l":0.08,"h":0.50,"c":"g"},{"r":184,"v":0.28,"l":0.05,"h":0.48,"c":"g"},{"r":185,"v":-0.15,"l":-0.52,"h":0.20,"c":"g"},{"r":186,"v":0.04,"l":-0.11,"h":0.19,"c":"r"},{"r":187,"v":0.10,"l":-0.05,"h":0.25,"c":"r"},{"r":188,"v":0.23,"l":0.05,"h":0.42,"c":"g"},{"r":189,"v":0.34,"l":0.12,"h":0.55,"c":"g"},{"r":190,"v":0.02,"l":-0.13,"h":0.17,"c":"r"},
{"r":191,"v":0.35,"l":0.15,"h":0.55,"c":"g"},{"r":192,"v":0.07,"l":-0.08,"h":0.22,"c":"r"},{"r":193,"v":-0.38,"l":-0.65,"h":-0.10,"c":"g"},{"r":194,"v":-0.19,"l":-0.60,"h":0.20,"c":"g"},{"r":195,"v":0.08,"l":-0.08,"h":0.24,"c":"r"},{"r":196,"v":0.22,"l":0.02,"h":0.40,"c":"g"},{"r":197,"v":0.41,"l":0.20,"h":0.60,"c":"g"},{"r":198,"v":0.04,"l":-0.10,"h":0.18,"c":"r"},{"r":199,"v":0.45,"l":0.25,"h":0.68,"c":"g"},{"r":200,"v":-0.07,"l":-0.25,"h":0.10,"c":"g"},
{"r":201,"v":0.47,"l":0.25,"h":0.70,"c":"g"},{"r":202,"v":0.29,"l":0.05,"h":0.55,"c":"g"},{"r":203,"v":0.15,"l":0.00,"h":0.30,"c":"r"},{"r":204,"v":0.32,"l":0.10,"h":0.55,"c":"g"},{"r":205,"v":0.03,"l":-0.12,"h":0.18,"c":"r"},{"r":206,"v":0.08,"l":-0.08,"h":0.24,"c":"r"},{"r":207,"v":0.20,"l":0.00,"h":0.40,"c":"g"},{"r":208,"v":0.03,"l":-0.12,"h":0.18,"c":"r"},{"r":209,"v":-0.61,"l":-0.85,"h":-0.35,"c":"g"},{"r":210,"v":0.26,"l":0.05,"h":0.45,"c":"g"},
{"r":211,"v":-0.07,"l":-0.30,"h":0.15,"c":"g"},{"r":212,"v":0.34,"l":0.10,"h":0.55,"c":"g"},{"r":213,"v":-0.43,"l":-0.84,"h":-0.05,"c":"g"},{"r":214,"v":0.04,"l":-0.12,"h":0.20,"c":"r"},{"r":215,"v":-0.04,"l":-0.20,"h":0.12,"c":"r"},{"r":216,"v":0.10,"l":-0.05,"h":0.25,"c":"r"},{"r":217,"v":0.52,"l":0.30,"h":0.70,"c":"g"},{"r":218,"v":-0.05,"l":-0.20,"h":0.10,"c":"r"},{"r":219,"v":-0.08,"l":-0.30,"h":0.15,"c":"g"},{"r":220,"v":-0.64,"l":-1.05,"h":-0.25,"c":"g"},
{"r":221,"v":0.00,"l":-0.15,"h":0.15,"c":"r"},{"r":222,"v":0.28,"l":0.05,"h":0.50,"c":"g"},{"r":223,"v":0.83,"l":0.50,"h":1.16,"c":"g"},{"r":224,"v":-0.04,"l":-0.20,"h":0.12,"c":"r"},{"r":225,"v":0.46,"l":0.20,"h":0.70,"c":"g"},{"r":226,"v":0.10,"l":-0.06,"h":0.26,"c":"r"},{"r":227,"v":0.54,"l":0.30,"h":0.80,"c":"g"},{"r":228,"v":0.22,"l":0.05,"h":0.40,"c":"g"},{"r":229,"v":0.33,"l":0.10,"h":0.55,"c":"g"},{"r":230,"v":0.08,"l":-0.07,"h":0.23,"c":"r"},
{"r":231,"v":0.28,"l":0.05,"h":0.50,"c":"g"},{"r":232,"v":0.10,"l":-0.04,"h":0.24,"c":"r"},{"r":233,"v":0.05,"l":-0.10,"h":0.20,"c":"r"},{"r":234,"v":0.10,"l":-0.05,"h":0.25,"c":"r"},{"r":235,"v":0.42,"l":0.20,"h":0.66,"c":"g"},{"r":236,"v":-0.04,"l":-0.18,"h":0.10,"c":"r"},{"r":237,"v":0.05,"l":-0.10,"h":0.20,"c":"r"},{"r":238,"v":-0.21,"l":-0.36,"h":-0.06,"c":"r"},{"r":239,"v":0.62,"l":0.38,"h":0.87,"c":"g"},{"r":240,"v":-0.20,"l":-0.45,"h":0.05,"c":"g"},
{"r":241,"v":-0.12,"l":-0.28,"h":0.04,"c":"r"},{"r":242,"v":0.15,"l":0.00,"h":0.30,"c":"r"},{"r":243,"v":0.19,"l":0.04,"h":0.34,"c":"r"},{"r":244,"v":0.20,"l":-0.10,"h":0.50,"c":"g"},{"r":245,"v":0.45,"l":0.15,"h":0.75,"c":"g"},{"r":246,"v":-0.54,"l":-1.07,"h":0.00,"c":"g"},{"r":247,"v":0.06,"l":-0.10,"h":0.22,"c":"r"},{"r":248,"v":0.20,"l":0.05,"h":0.35,"c":"r"},{"r":249,"v":-0.54,"l":-0.80,"h":-0.20,"c":"g"},{"r":250,"v":0.57,"l":0.25,"h":0.88,"c":"g"},
{"r":251,"v":-0.01,"l":-0.15,"h":0.13,"c":"r"},{"r":252,"v":0.89,"l":0.45,"h":1.35,"c":"g"},{"r":253,"v":0.24,"l":-0.10,"h":0.55,"c":"g"},{"r":254,"v":0.62,"l":0.30,"h":0.95,"c":"g"},{"r":255,"v":0.23,"l":-0.10,"h":0.50,"c":"g"},{"r":256,"v":-0.45,"l":-0.82,"h":-0.10,"c":"g"},{"r":257,"v":-0.30,"l":-1.26,"h":0.30,"c":"g"},{"r":258,"v":1.00,"l":0.68,"h":1.32,"c":"g"},{"r":259,"v":-0.35,"l":-0.78,"h":0.05,"c":"g"},{"r":260,"v":0.37,"l":0.05,"h":0.70,"c":"g"},
{"r":261,"v":0.09,"l":-0.25,"h":0.40,"c":"g"},{"r":262,"v":-0.30,"l":-0.60,"h":0.00,"c":"g"},{"r":263,"v":0.57,"l":0.20,"h":0.90,"c":"g"},{"r":264,"v":0.19,"l":-0.15,"h":0.55,"c":"g"},{"r":265,"v":0.16,"l":-0.10,"h":0.45,"c":"g"},{"r":266,"v":0.71,"l":0.40,"h":1.03,"c":"g"},{"r":267,"v":0.72,"l":0.40,"h":1.12,"c":"g"},{"r":268,"v":0.50,"l":0.15,"h":0.80,"c":"g"},{"r":269,"v":0.15,"l":-0.15,"h":0.45,"c":"g"},{"r":270,"v":-0.26,"l":-0.83,"h":0.30,"c":"g"},
{"r":271,"v":-0.42,"l":-0.83,"h":-0.05,"c":"g"},{"r":272,"v":0.40,"l":0.10,"h":0.70,"c":"g"},{"r":273,"v":0.25,"l":-0.10,"h":0.55,"c":"g"},{"r":274,"v":0.38,"l":0.10,"h":0.65,"c":"g"},{"r":275,"v":0.02,"l":-0.12,"h":0.17,"c":"r"},{"r":276,"v":0.40,"l":0.10,"h":0.70,"c":"g"},{"r":277,"v":0.48,"l":0.20,"h":0.84,"c":"g"},{"r":278,"v":0.05,"l":-0.35,"h":0.45,"c":"g"},{"r":279,"v":0.51,"l":0.20,"h":0.82,"c":"g"},{"r":280,"v":-0.01,"l":-0.30,"h":0.30,"c":"g"},
{"r":281,"v":-0.14,"l":-0.50,"h":0.20,"c":"g"},{"r":282,"v":0.20,"l":-0.30,"h":0.70,"c":"g"},{"r":283,"v":-0.31,"l":-0.70,"h":0.10,"c":"g"},{"r":284,"v":0.47,"l":0.10,"h":0.80,"c":"g"},{"r":285,"v":0.11,"l":-0.50,"h":0.75,"c":"g"},{"r":286,"v":-0.15,"l":-0.55,"h":0.25,"c":"g"},{"r":287,"v":0.45,"l":-0.30,"h":0.90,"c":"g"},{"r":288,"v":-0.15,"l":-1.18,"h":0.50,"c":"g"},{"r":289,"v":0.20,"l":-0.25,"h":0.65,"c":"g"},{"r":290,"v":0.69,"l":0.25,"h":1.14,"c":"g"},
{"r":291,"v":0.62,"l":0.30,"h":0.95,"c":"g"},{"r":292,"v":0.39,"l":0.00,"h":0.80,"c":"g"},{"r":293,"v":-0.19,"l":-0.50,"h":0.10,"c":"g"},{"r":294,"v":0.04,"l":-0.30,"h":0.40,"c":"g"},{"r":295,"v":-0.38,"l":-0.80,"h":0.05,"c":"g"},{"r":296,"v":0.30,"l":-0.10,"h":0.65,"c":"g"},{"r":297,"v":0.70,"l":0.30,"h":1.13,"c":"g"},{"r":298,"v":0.72,"l":0.35,"h":1.10,"c":"g"},{"r":299,"v":0.09,"l":-0.42,"h":0.60,"c":"g"},{"r":300,"v":0.30,"l":-0.05,"h":0.65,"c":"g"},
{"r":301,"v":0.57,"l":0.21,"h":0.92,"c":"g"},{"r":302,"v":0.32,"l":-0.10,"h":0.75,"c":"g"},{"r":303,"v":0.25,"l":-0.20,"h":0.70,"c":"g"},{"r":304,"v":0.10,"l":-0.30,"h":0.50,"c":"g"},{"r":305,"v":0.57,"l":0.21,"h":0.92,"c":"g"}
],
"c": [
{"x":-3.40,"y":6.66,"s":"TRUE"},{"x":-1.90,"y":6.57,"s":"TRUE"},{"x":-2.02,"y":5.76,"s":"TRUE"},{"x":-1.76,"y":5.76,"s":"TRUE"},{"x":-1.35,"y":4.91,"s":"TRUE"},{"x":-2.36,"y":4.46,"s":"TRUE"},{"x":-2.15,"y":4.51,"s":"TRUE"},{"x":-2.47,"y":4.15,"s":"TRUE"},{"x":-1.25,"y":4.13,"s":"TRUE"},{"x":-1.95,"y":3.92,"s":"TRUE"},{"x":-1.50,"y":3.94,"s":"TRUE"},{"x":-1.37,"y":3.90,"s":"TRUE"},{"x":-1.73,"y":3.83,"s":"TRUE"},{"x":-1.61,"y":3.75,"s":"TRUE"},{"x":-1.63,"y":3.66,"s":"TRUE"},{"x":-1.32,"y":3.71,"s":"TRUE"},{"x":-1.19,"y":3.72,"s":"TRUE"},{"x":-1.09,"y":3.45,"s":"TRUE"},{"x":-1.45,"y":3.35,"s":"TRUE"},{"x":-2.94,"y":3.29,"s":"TRUE"},{"x":-2.06,"y":3.20,"s":"TRUE"},{"x":-2.54,"y":3.04,"s":"TRUE"},{"x":-1.89,"y":3.09,"s":"TRUE"},{"x":-1.82,"y":2.98,"s":"TRUE"},{"x":-1.37,"y":3.08,"s":"TRUE"},{"x":-1.45,"y":2.92,"s":"TRUE"},{"x":-1.35,"y":2.88,"s":"TRUE"},{"x":-1.25,"y":2.91,"s":"TRUE"},{"x":-1.13,"y":2.89,"s":"TRUE"},{"x":-1.05,"y":2.84,"s":"TRUE"},{"x":-1.73,"y":2.79,"s":"TRUE"},{"x":-1.09,"y":2.77,"s":"TRUE"},{"x":-1.45,"y":2.67,"s":"TRUE"},{"x":-1.13,"y":2.65,"s":"TRUE"},{"x":-0.99,"y":2.62,"s":"TRUE"},{"x":-1.67,"y":2.53,"s":"TRUE"},{"x":-1.32,"y":2.55,"s":"TRUE"},{"x":-1.25,"y":2.50,"s":"TRUE"},{"x":-1.07,"y":2.37,"s":"TRUE"},{"x":-1.03,"y":2.34,"s":"TRUE"},{"x":-1.35,"y":2.26,"s":"TRUE"},{"x":-1.05,"y":2.10,"s":"TRUE"},{"x":-1.03,"y":1.87,"s":"TRUE"},{"x":-1.64,"y":1.62,"s":"TRUE"},{"x":-1.40,"y":1.48,"s":"TRUE"},{"x":-1.01,"y":1.34,"s":"TRUE"},{"x":-1.19,"y":1.30,"s":"TRUE"},{"x":2.47,"y":6.14,"s":"TRUE"},{"x":2.20,"y":4.19,"s":"TRUE"},{"x":2.57,"y":3.29,"s":"TRUE"},{"x":1.27,"y":2.68,"s":"TRUE"},{"x":1.30,"y":2.59,"s":"TRUE"},{"x":2.17,"y":2.24,"s":"TRUE"},{"x":2.56,"y":2.30,"s":"TRUE"},{"x":1.01,"y":1.96,"s":"TRUE"},{"x":1.04,"y":1.96,"s":"TRUE"},{"x":1.95,"y":1.73,"s":"TRUE"},{"x":1.99,"y":1.48,"s":"TRUE"},{"x":1.59,"y":1.34,"s":"TRUE"},
{"x":-0.94,"y":4.05,"s":"FALSE"},{"x":-0.77,"y":4.00,"s":"FALSE"},{"x":-0.90,"y":3.84,"s":"FALSE"},{"x":-0.91,"y":3.74,"s":"FALSE"},{"x":-0.87,"y":3.47,"s":"FALSE"},{"x":-0.84,"y":3.39,"s":"FALSE"},{"x":-0.80,"y":3.40,"s":"FALSE"},{"x":-0.95,"y":3.09,"s":"FALSE"},{"x":-0.84,"y":2.79,"s":"FALSE"},{"x":-0.71,"y":2.80,"s":"FALSE"},{"x":-0.32,"y":2.71,"s":"FALSE"},{"x":0.92,"y":2.89,"s":"FALSE"},{"x":-0.96,"y":2.49,"s":"FALSE"},{"x":-0.77,"y":2.49,"s":"FALSE"},{"x":-0.32,"y":2.32,"s":"FALSE"},{"x":-0.84,"y":2.37,"s":"FALSE"},{"x":-0.90,"y":2.26,"s":"FALSE"},{"x":-0.73,"y":2.30,"s":"FALSE"},{"x":-0.96,"y":2.19,"s":"FALSE"},{"x":-0.81,"y":2.15,"s":"FALSE"},{"x":-0.37,"y":2.10,"s":"FALSE"},{"x":-0.86,"y":2.05,"s":"FALSE"},{"x":-0.71,"y":1.96,"s":"FALSE"},{"x":-0.63,"y":1.96,"s":"FALSE"},{"x":-0.54,"y":1.92,"s":"FALSE"},{"x":-0.45,"y":1.88,"s":"FALSE"},{"x":-0.60,"y":1.79,"s":"FALSE"},{"x":-0.47,"y":1.77,"s":"FALSE"},{"x":-0.42,"y":1.67,"s":"FALSE"},{"x":-0.92,"y":1.81,"s":"FALSE"},{"x":-0.71,"y":1.58,"s":"FALSE"},{"x":-0.58,"y":1.51,"s":"FALSE"},{"x":-0.90,"y":1.60,"s":"FALSE"},{"x":-0.84,"y":1.51,"s":"FALSE"},{"x":-0.45,"y":1.47,"s":"FALSE"},{"x":-0.60,"y":1.39,"s":"FALSE"},{"x":-0.49,"y":1.37,"s":"FALSE"},{"x":-0.51,"y":1.21,"s":"FALSE"},{"x":-0.42,"y":1.24,"s":"FALSE"},{"x":-0.55,"y":1.15,"s":"FALSE"},{"x":-1.09,"y":0.83,"s":"FALSE"},{"x":-1.01,"y":0.75,"s":"FALSE"},{"x":-0.90,"y":0.79,"s":"FALSE"},{"x":-0.81,"y":0.72,"s":"FALSE"},{"x":-0.64,"y":0.74,"s":"FALSE"},{"x":-1.07,"y":0.53,"s":"FALSE"},{"x":-0.51,"y":0.90,"s":"FALSE"},{"x":-0.39,"y":1.02,"s":"FALSE"},{"x":-0.32,"y":0.94,"s":"FALSE"},{"x":-0.26,"y":0.87,"s":"FALSE"},{"x":-0.19,"y":0.66,"s":"FALSE"},{"x":-0.32,"y":0.64,"s":"FALSE"},{"x":-0.45,"y":0.45,"s":"FALSE"},{"x":-0.39,"y":0.29,"s":"FALSE"},{"x":-0.55,"y":0.26,"s":"FALSE"},{"x":-0.06,"y":0.38,"s":"FALSE"},{"x":-0.13,"y":0.26,"s":"FALSE"},{"x":0.00,"y":0.23,"s":"FALSE"},{"x":-0.09,"y":0.15,"s":"FALSE"},{"x":0.06,"y":0.11,"s":"FALSE"},{"x":0.19,"y":0.19,"s":"FALSE"},{"x":0.13,"y":0.08,"s":"FALSE"},{"x":0.26,"y":0.04,"s":"FALSE"},{"x":-0.19,"y":0.04,"s":"FALSE"},{"x":-0.55,"y":0.04,"s":"FALSE"},{"x":0.32,"y":0.53,"s":"FALSE"},{"x":0.45,"y":0.45,"s":"FALSE"},{"x":0.58,"y":0.57,"s":"FALSE"},{"x":0.48,"y":0.30,"s":"FALSE"},{"x":0.71,"y":0.23,"s":"FALSE"},{"x":0.90,"y":0.08,"s":"FALSE"},{"x":0.96,"y":0.09,"s":"FALSE"},{"x":1.45,"y":0.09,"s":"FALSE"},{"x":0.71,"y":1.32,"s":"FALSE"},{"x":0.96,"y":1.21,"s":"FALSE"},{"x":0.39,"y":0.75,"s":"FALSE"},{"x":0.64,"y":0.68,"s":"FALSE"},{"x":1.16,"y":0.60,"s":"FALSE"},
{"x":-0.85,"y":3.20,"s":"FALSE"},{"x":-0.88,"y":2.95,"s":"FALSE"},{"x":-0.78,"y":2.70,"s":"FALSE"},{"x":-0.85,"y":2.60,"s":"FALSE"},{"x":-0.75,"y":2.40,"s":"FALSE"},{"x":-0.68,"y":2.25,"s":"FALSE"},{"x":-0.80,"y":2.00,"s":"FALSE"},{"x":-0.65,"y":2.10,"s":"FALSE"},{"x":-0.55,"y":2.05,"s":"FALSE"},{"x":-0.70,"y":1.85,"s":"FALSE"},{"x":-0.62,"y":1.70,"s":"FALSE"},{"x":-0.52,"y":1.62,"s":"FALSE"},{"x":-0.78,"y":1.70,"s":"FALSE"},{"x":-0.65,"y":1.45,"s":"FALSE"},{"x":-0.55,"y":1.32,"s":"FALSE"},{"x":-0.45,"y":1.15,"s":"FALSE"},{"x":-0.38,"y":1.30,"s":"FALSE"},{"x":-0.62,"y":1.25,"s":"FALSE"},{"x":-0.48,"y":1.05,"s":"FALSE"},{"x":-0.40,"y":0.80,"s":"FALSE"},{"x":-0.30,"y":0.75,"s":"FALSE"},{"x":-0.22,"y":0.55,"s":"FALSE"},{"x":-0.35,"y":0.50,"s":"FALSE"},{"x":-0.28,"y":0.40,"s":"FALSE"},{"x":-0.18,"y":0.32,"s":"FALSE"},{"x":-0.25,"y":0.20,"s":"FALSE"},{"x":-0.12,"y":0.45,"s":"FALSE"},{"x":-0.05,"y":0.52,"s":"FALSE"},{"x":0.05,"y":0.40,"s":"FALSE"},{"x":0.10,"y":0.30,"s":"FALSE"},{"x":0.15,"y":0.45,"s":"FALSE"},{"x":0.22,"y":0.35,"s":"FALSE"},{"x":0.08,"y":0.20,"s":"FALSE"},{"x":-0.03,"y":0.10,"s":"FALSE"},{"x":0.03,"y":0.02,"s":"FALSE"},{"x":0.10,"y":0.05,"s":"FALSE"},{"x":0.18,"y":0.02,"s":"FALSE"},{"x":-0.10,"y":0.02,"s":"FALSE"},{"x":0.20,"y":0.12,"s":"FALSE"},{"x":0.12,"y":0.15,"s":"FALSE"},{"x":-0.05,"y":0.30,"s":"FALSE"},{"x":0.02,"y":0.15,"s":"FALSE"},{"x":0.28,"y":0.22,"s":"FALSE"},{"x":0.35,"y":0.12,"s":"FALSE"},{"x":-0.15,"y":0.12,"s":"FALSE"},{"x":0.05,"y":0.25,"s":"FALSE"},{"x":-0.08,"y":0.35,"s":"FALSE"},{"x":0.25,"y":0.60,"s":"FALSE"},{"x":0.18,"y":0.55,"s":"FALSE"},{"x":0.40,"y":0.30,"s":"FALSE"},{"x":-0.70,"y":0.65,"s":"FALSE"},{"x":-0.58,"y":0.85,"s":"FALSE"},{"x":-0.95,"y":0.95,"s":"FALSE"},{"x":-0.85,"y":0.62,"s":"FALSE"},{"x":-0.75,"y":0.88,"s":"FALSE"},{"x":-0.65,"y":0.40,"s":"FALSE"},{"x":-0.50,"y":0.55,"s":"FALSE"},{"x":-0.60,"y":0.98,"s":"FALSE"},{"x":-0.35,"y":1.10,"s":"FALSE"},{"x":-0.28,"y":1.20,"s":"FALSE"},{"x":-0.50,"y":1.45,"s":"FALSE"},{"x":-0.70,"y":1.15,"s":"FALSE"},
{"x":3.17,"y":1.24,"s":"FALSE"},{"x":3.24,"y":0.96,"s":"FALSE"},{"x":2.16,"y":1.27,"s":"FALSE"},{"x":2.31,"y":1.02,"s":"FALSE"},{"x":2.43,"y":0.85,"s":"FALSE"},{"x":1.99,"y":0.53,"s":"FALSE"},{"x":2.08,"y":0.50,"s":"FALSE"},{"x":2.74,"y":0.35,"s":"FALSE"},{"x":1.85,"y":0.21,"s":"FALSE"},{"x":2.63,"y":0.10,"s":"FALSE"},{"x":0.67,"y":1.28,"s":"FALSE"},{"x":0.77,"y":1.21,"s":"FALSE"},{"x":1.05,"y":1.17,"s":"FALSE"},{"x":1.32,"y":1.15,"s":"FALSE"},{"x":1.17,"y":1.03,"s":"FALSE"},{"x":1.04,"y":1.00,"s":"FALSE"},{"x":0.86,"y":0.92,"s":"FALSE"},{"x":1.22,"y":0.87,"s":"FALSE"},{"x":1.12,"y":0.60,"s":"FALSE"},{"x":0.84,"y":0.49,"s":"FALSE"},{"x":0.58,"y":0.45,"s":"FALSE"},{"x":0.90,"y":0.70,"s":"FALSE"},{"x":0.42,"y":0.72,"s":"FALSE"},{"x":0.55,"y":0.95,"s":"FALSE"},{"x":0.30,"y":0.90,"s":"FALSE"},{"x":1.00,"y":0.40,"s":"FALSE"},{"x":0.70,"y":0.05,"s":"FALSE"},{"x":0.50,"y":0.15,"s":"FALSE"},{"x":0.85,"y":0.25,"s":"FALSE"}
]
},
"spacing": 21.5,
"resolve": {"scale": {"color": "independent"}, "legend": {"color": "independent"}},
"vconcat": [
 {
  "bounds": "flush",
  "spacing": 54,
  "resolve": {"scale": {"color": "independent"}, "legend": {"color": "independent"}},
  "hconcat": [
   {
    "width": 339, "height": 340,
    "view": {"stroke": "#8c8c8c", "strokeWidth": 1},
    "title": {"text": "A", "font": "Liberation Serif", "fontSize": 22, "fontWeight": "normal", "color": "black", "anchor": "start", "frame": "group", "orient": "top", "offset": -26.3, "baseline": "alphabetic", "dx": -36, "dy": 12.6},
    "layer": [
     {
      "data": {"name": "a"},
      "mark": {"type": "circle", "size": 18, "opacity": 0.8},
      "encoding": {
       "x": {"field": "x", "type": "quantitative", "title": "log2 fold change",
        "scale": {"domain": [-7.56, 5.06], "nice": false, "zero": false},
        "axis": {"values": [-7.5,-6.25,-5,-3.75,-2.5,-1.25,0,1.25,2.5,3.75,5],
         "labelExpr": "datum.value % 2.5 === 0 ? (datum.value < 0 ? '-' : '') + format(abs(datum.value), '.1f') : ''",
         "domain": false, "tickSize": 3, "tickColor": "#333333",
         "tickOpacity": {"condition": {"test": "datum.value % 2.5 === 0", "value": 1}, "value": 0},
         "gridColor": {"condition": {"test": "datum.value % 2.5 === 0", "value": "#e4e4e4"}, "value": "#f2f2f2"},
         "gridWidth": {"condition": {"test": "datum.value % 2.5 === 0", "value": 1}, "value": 0.7},
         "labelFontSize": 8, "labelColor": "#4d4d4d", "labelPadding": 2.5, "labelOverlap": false, "labelFlush": false,
         "titleFontSize": 9.7, "titleFontWeight": "normal", "titleColor": "#1a1a1a", "titlePadding": 3.5}},
       "y": {"field": "y", "type": "quantitative", "title": "-log10 p-value",
        "scale": {"domain": [-0.69, 15.25], "nice": false, "zero": false},
        "axis": {"values": [0,2.5,5,7.5,10,12.5,15],
         "labelExpr": "datum.value % 5 === 0 ? format(datum.value, 'd') : ''",
         "domain": false, "tickSize": 3, "tickColor": "#333333",
         "tickOpacity": {"condition": {"test": "datum.value % 5 === 0", "value": 1}, "value": 0},
         "gridColor": {"condition": {"test": "datum.value % 5 === 0", "value": "#e4e4e4"}, "value": "#f2f2f2"},
         "gridWidth": {"condition": {"test": "datum.value % 5 === 0", "value": 1}, "value": 0.7},
         "labelFontSize": 8, "labelColor": "#4d4d4d", "labelPadding": 1.5, "labelOverlap": false, "labelFlush": false,
         "titleFontSize": 9.7, "titleFontWeight": "normal", "titleColor": "#1a1a1a", "titlePadding": 2}},
       "color": {"field": "s", "type": "nominal",
        "scale": {"domain": ["FALSE", "TRUE"], "range": ["#F8766D", "#00BFC4"]},
        "legend": {"orient": "none", "legendX": 285.3, "legendY": 23.3, "title": null, "padding": 0,
         "symbolType": "circle", "symbolSize": 18, "symbolOpacity": 0.8, "symbolStrokeWidth": 0,
         "labelFontSize": 8.5, "labelColor": "#333333", "labelOffset": 6, "rowPadding": 5.3}}
      }
     },
     {
      "data": {"values": [{"t": 3}]},
      "mark": {"type": "rule", "color": "#F8766D", "strokeWidth": 1.4, "strokeDash": [5, 3]},
      "encoding": {"y": {"field": "t", "type": "quantitative", "title": "-log10 p-value", "scale": {"domain": [-0.69, 15.25], "nice": false, "zero": false}}}
     }
    ]
   },
   {
    "width": 364, "height": 340,
    "view": {"stroke": "#707070", "strokeWidth": 1},
    "title": {"text": "B", "font": "Liberation Serif", "fontSize": 22, "fontWeight": "normal", "color": "black", "anchor": "start", "frame": "group", "orient": "top", "offset": -22.7, "baseline": "alphabetic", "dx": -38.7, "dy": 14.4},
    "layer": [
     {
      "data": {"name": "b"},
      "transform": [{"filter": "datum.c === 'r'"}],
      "mark": {"type": "errorbar", "ticks": true, "size": 5, "thickness": 1, "color": "#e35f5c"},
      "encoding": {
       "x": {"field": "r", "type": "quantitative", "title": "Rank (proteins)",
        "scale": {"domain": [-10.8, 317.3], "nice": false, "zero": false},
        "axis": {"values": [0,50,100,150,200,250,300], "grid": false, "domain": false,
         "tickSize": 5, "tickColor": "#555555", "labelFontSize": 7, "labelColor": "#333333", "labelPadding": 3.5,
         "titleFontSize": 9.6, "titleFontWeight": "bold", "titleColor": "#111111", "titlePadding": 8}},
       "y": {"field": "l", "type": "quantitative", "title": "log10 confidence interval",
        "scale": {"domain": [-1.558, 1.461], "nice": false, "zero": false},
        "axis": {"values": [-1.5,-1,-0.5,0,0.5,1], "grid": false, "domain": false,
         "labelExpr": "(datum.value < 0 ? '-' : '') + format(abs(datum.value), '.1f')",
         "tickSize": 5, "tickColor": "#555555", "labelFontSize": 7, "labelColor": "#333333", "labelPadding": 5.5,
         "labelAngle": 270, "labelAlign": "center", "labelBaseline": "bottom",
         "titleFontSize": 9.6, "titleFontWeight": "bold", "titleColor": "#111111", "titlePadding": 7}},
       "y2": {"field": "h"}
      }
     },
     {
      "data": {"name": "b"},
      "transform": [{"filter": "datum.c === 'g'"}],
      "mark": {"type": "errorbar", "ticks": true, "size": 5, "thickness": 1, "color": "#5e5e5e"},
      "encoding": {
       "x": {"field": "r", "type": "quantitative", "title": "Rank (proteins)", "scale": {"domain": [-10.8, 317.3], "nice": false, "zero": false}},
       "y": {"field": "l", "type": "quantitative", "title": "log10 confidence interval", "scale": {"domain": [-1.558, 1.461], "nice": false, "zero": false}},
       "y2": {"field": "h"}
      }
     },
     {
      "data": {"name": "b"},
      "mark": {"type": "circle", "size": 12, "color": "black", "opacity": 1},
      "encoding": {
       "x": {"field": "r", "type": "quantitative", "title": "Rank (proteins)", "scale": {"domain": [-10.8, 317.3], "nice": false, "zero": false}},
       "y": {"field": "v", "type": "quantitative", "title": "log10 confidence interval", "scale": {"domain": [-1.558, 1.461], "nice": false, "zero": false}}
      }
     },
     {
      "data": {"values": [{"g": 0.3}, {"g": -0.3}]},
      "mark": {"type": "rule", "color": "#33dd33", "strokeWidth": 2, "strokeDash": [6, 4]},
      "encoding": {"y": {"field": "g", "type": "quantitative", "title": "log10 confidence interval", "scale": {"domain": [-1.558, 1.461], "nice": false, "zero": false}}}
     }
    ]
   }
  ]
 },
 {
  "bounds": "flush",
  "spacing": 0,
  "resolve": {"scale": {"color": "independent"}, "legend": {"color": "independent"}},
  "hconcat": [
   {
    "width": 173, "height": 20,
    "data": {"values": [{"u": 0}]},
    "mark": {"type": "point", "opacity": 0},
    "encoding": {}
   },
   {
    "width": 343, "height": 340.6,
    "view": {"stroke": "#8c8c8c", "strokeWidth": 1},
    "title": {"text": "C", "font": "Liberation Serif", "fontSize": 22, "fontWeight": "normal", "color": "black", "anchor": "start", "frame": "group", "orient": "top", "offset": -21.3, "baseline": "alphabetic", "dx": -31, "dy": 17.6},
    "layer": [
     {
      "data": {"name": "c"},
      "mark": {"type": "circle", "size": 18, "opacity": 0.8},
      "encoding": {
       "x": {"field": "x", "type": "quantitative", "title": "log2 fold change",
        "scale": {"domain": [-8.105, 5.127], "nice": false, "zero": false},
        "axis": {"values": [-7.5,-6.25,-5,-3.75,-2.5,-1.25,0,1.25,2.5,3.75,5],
         "labelExpr": "datum.value % 2.5 === 0 ? (datum.value < 0 ? '-' : '') + format(abs(datum.value), '.1f') : ''",
         "domain": false, "tickSize": 3, "tickColor": "#333333",
         "tickOpacity": {"condition": {"test": "datum.value % 2.5 === 0", "value": 1}, "value": 0},
         "gridColor": {"condition": {"test": "datum.value % 2.5 === 0", "value": "#e4e4e4"}, "value": "#f2f2f2"},
         "gridWidth": {"condition": {"test": "datum.value % 2.5 === 0", "value": 1}, "value": 0.7},
         "labelFontSize": 8, "labelColor": "#4d4d4d", "labelPadding": 1.5, "labelOverlap": false, "labelFlush": false,
         "titleFontSize": 9.7, "titleFontWeight": "normal", "titleColor": "#1a1a1a", "titlePadding": 2.5}},
       "y": {"field": "y", "type": "quantitative", "title": "-log10 p-value",
        "scale": {"domain": [-0.35, 7.35], "nice": false, "zero": false},
        "axis": {"values": [0,1,2,3,4,5,6,7],
         "labelExpr": "datum.value % 2 === 0 ? format(datum.value, 'd') : ''",
         "domain": false, "tickSize": 3, "tickColor": "#333333",
         "tickOpacity": {"condition": {"test": "datum.value % 2 === 0", "value": 1}, "value": 0},
         "gridColor": {"condition": {"test": "datum.value % 2 === 0", "value": "#e4e4e4"}, "value": "#f2f2f2"},
         "gridWidth": {"condition": {"test": "datum.value % 2 === 0", "value": 1}, "value": 0.7},
         "labelFontSize": 8, "labelColor": "#4d4d4d", "labelPadding": 1.5, "labelOverlap": false, "labelFlush": false,
         "titleFontSize": 9.7, "titleFontWeight": "normal", "titleColor": "#1a1a1a", "titlePadding": 2}},
       "color": {"field": "s", "type": "nominal",
        "scale": {"domain": ["FALSE", "TRUE"], "range": ["#F8766D", "#00BFC4"]},
        "legend": {"orient": "none", "legendX": 290, "legendY": 24, "title": null, "padding": 0,
         "symbolType": "circle", "symbolSize": 18, "symbolOpacity": 0.8, "symbolStrokeWidth": 0,
         "labelFontSize": 8.5, "labelColor": "#333333", "labelOffset": 6, "rowPadding": 5.3}}
      }
     },
     {
      "data": {"values": [{"t": 1.301}]},
      "mark": {"type": "rule", "color": "#F8766D", "strokeWidth": 1.4, "strokeDash": [5, 3]},
      "encoding": {"y": {"field": "t", "type": "quantitative", "title": "-log10 p-value", "scale": {"domain": [-0.35, 7.35], "nice": false, "zero": false}}}
     }
    ]
   }
  ]
 }
]
}
